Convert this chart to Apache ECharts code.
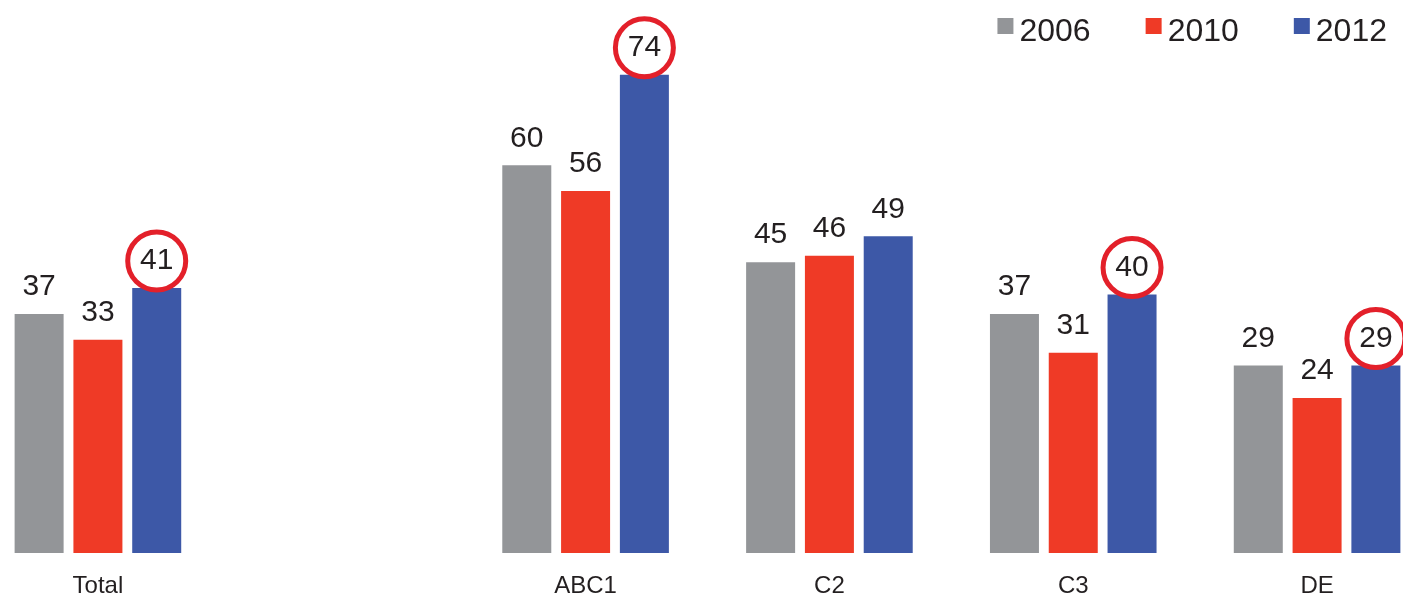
<!DOCTYPE html>
<html>
<head>
<meta charset="utf-8">
<script src="https://cdn.jsdelivr.net/npm/echarts@6/dist/echarts.min.js"></script>
<style>
html,body{margin:0;padding:0;background:#fff;overflow:hidden;width:1403px;height:598px;position:relative;}
#chart{position:absolute;left:-24px;top:0;width:1463px;height:598px;}
</style>
</head>
<body>
<div id="chart"></div>
<script>
var categories = ['Total', '', 'ABC1', 'C2', 'C3', 'DE'];
var seriesNames = ['2006', '2010', '2012'];
var values2006 = [37, '-', 60, 45, 37, 29];
var values2010 = [33, '-', 56, 46, 31, 24];
var values2012 = [41, '-', 74, 49, 40, 29];
var circled2012 = [true, false, true, false, true, true];

var colors = ['#939598', '#EF3A26', '#3D58A7'];
var textColor = '#231F20';

function makeData(vals, circled) {
  return vals.map(function (v, i) {
    if (circled && circled[i]) {
      return { value: v, label: { borderColor: '#E3202A', borderWidth: 5 } };
    }
    return v;
  });
}

var labelStyle = {
  show: true,
  position: 'top',
  distance: -2,
  fontFamily: 'Liberation Sans, Arial, sans-serif',
  fontSize: 30,
  color: textColor,
  width: 58,
  height: 58,
  lineHeight: 58,
  align: 'center',
  borderRadius: 32
};

var allValues = [values2006, values2010, values2012];
var series = seriesNames.map(function (name, k) {
  return {
    name: name,
    type: 'bar',
    barWidth: 49,
    barGap: '20%',
    itemStyle: { color: colors[k] },
    label: labelStyle,
    data: makeData(allValues[k], k === 2 ? circled2012 : null)
  };
});

var chart = echarts.init(document.getElementById('chart'));
chart.setOption({
  animation: false,
  backgroundColor: '#fff',
  color: colors,
  legend: {
    right: 47,
    top: 11,
    itemWidth: 16,
    itemHeight: 16,
    itemGap: 55,
    icon: 'rect',
    formatter: '{t|{name}}',
    textStyle: {
      fontFamily: 'Liberation Sans, Arial, sans-serif', fontSize: 32, color: textColor,
      rich: { t: { fontFamily: 'Liberation Sans, Arial, sans-serif', fontSize: 32, color: textColor, padding: [12, 0, 0, 1] } }
    },
    data: seriesNames
  },
  grid: { left: 0, right: 0, top: 36, bottom: 42, containLabel: false },
  xAxis: {
    type: 'category',
    data: categories,
    axisLine: { show: false },
    axisTick: { show: false },
    axisLabel: { margin: 21, fontFamily: 'Liberation Sans, Arial, sans-serif', fontSize: 24, color: textColor, interval: 0 }
  },
  yAxis: {
    type: 'value',
    min: 0,
    max: 80,
    show: false,
    splitLine: { show: false }
  },
  series: series
});
</script>
</body>
</html>
